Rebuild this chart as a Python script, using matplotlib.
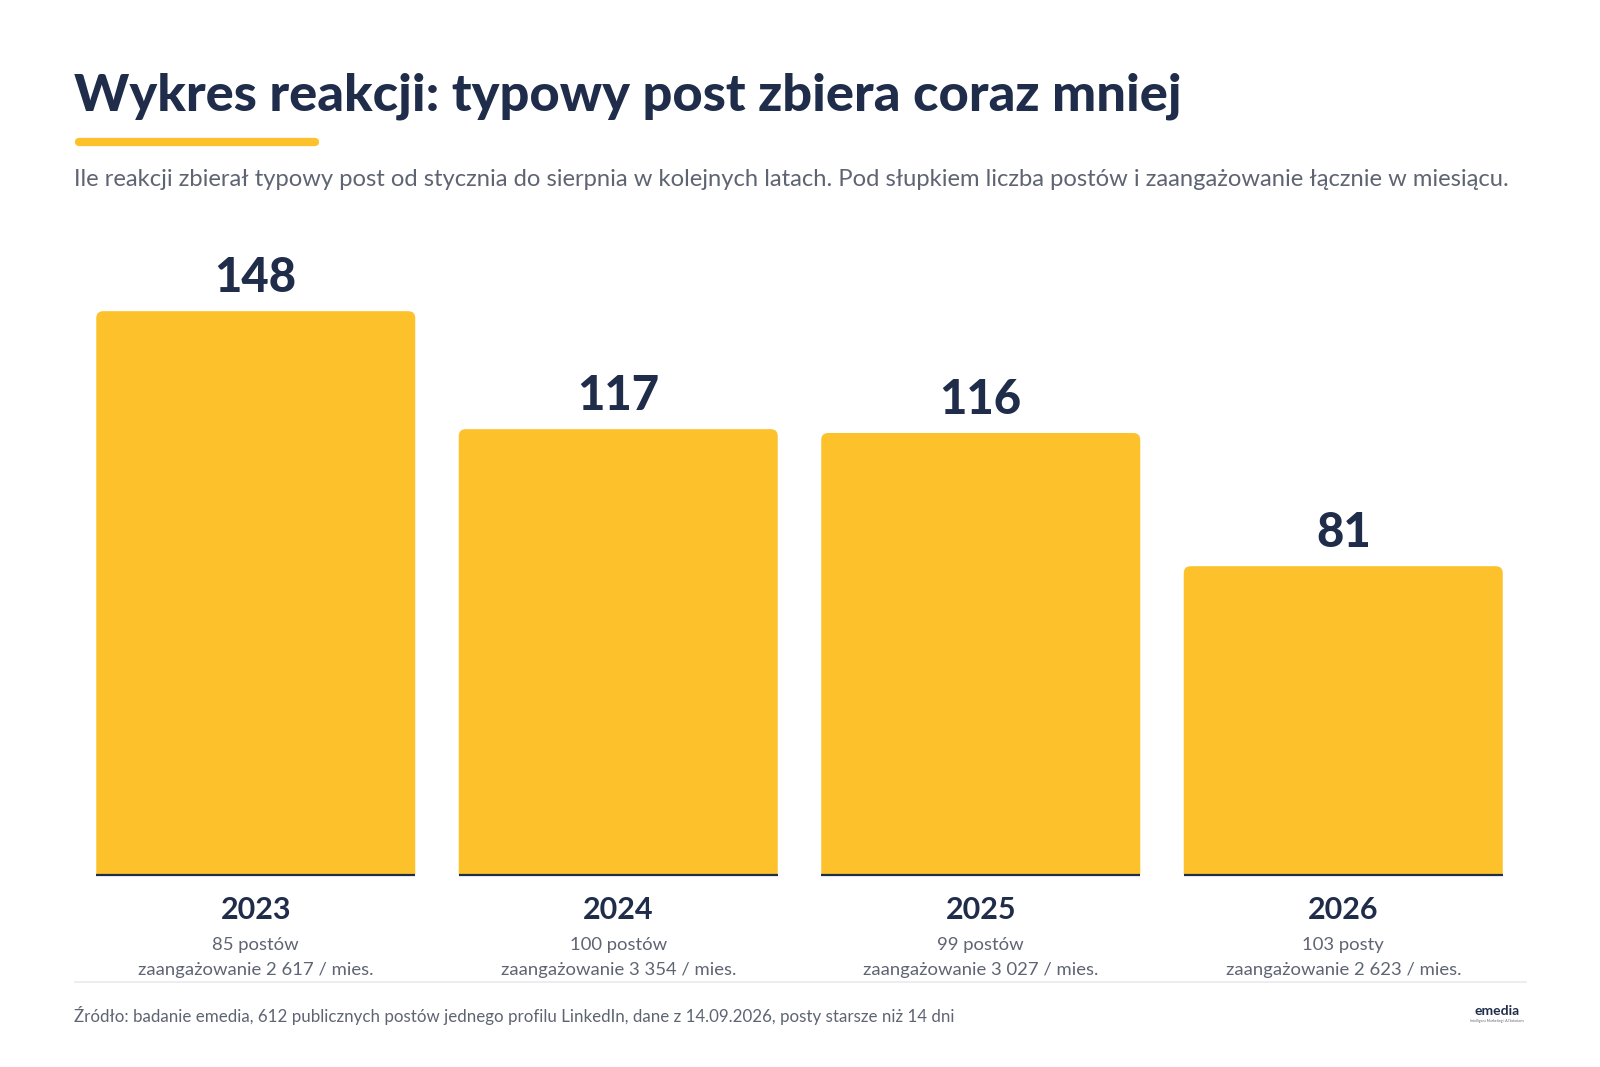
import matplotlib
matplotlib.use("Agg")
from matplotlib import pyplot as plt
from matplotlib.patches import FancyBboxPatch
from matplotlib.lines import Line2D

years = ["2023", "2024", "2025", "2026"]
reactions = [148, 117, 116, 81]
posts = ["85 postów", "100 postów", "99 postów", "103 posty"]
engagement = ["zaangażowanie 2 617 / mies.", "zaangażowanie 3 354 / mies.",
              "zaangażowanie 3 027 / mies.", "zaangażowanie 2 623 / mies."]

title = "Wykres reakcji: typowy post zbiera coraz mniej"
subtitle = ("Ile reakcji zbierał typowy post od stycznia do sierpnia w kolejnych latach. "
            "Pod słupkiem liczba postów i zaangażowanie łącznie w miesiącu.")
source = ("Źródło: badanie emedia, 612 publicznych postów jednego profilu LinkedIn, "
          "dane z 14.09.2026, posty starsze niż 14 dni")

NAVY = "#1f2d4a"
YELLOW = "#fdc22b"
GREY = "#5f6473"

plt.rcParams["font.family"] = ["Lato", "DejaVu Sans"]

W, H = 1600, 1067
fig = plt.figure(figsize=(16, 10.67), dpi=100)
ax = fig.add_axes([74.5 / W, 1 - 874.5 / H, 1450 / W, 609 / H])
ax.set_xlim(-0.5, 3.5)
ax.set_ylim(0, 160)
ax.axis("off")

xs = list(range(len(years)))
bw = 0.88
bars = ax.bar(xs, reactions, width=bw, color="none")
# rounded tops: same geometry as the bars, aspect corrected
ypp = 160 / 609
xpp = 4 / 1450
for b in bars:
    p = FancyBboxPatch((b.get_x(), -5), b.get_width(), b.get_height() + 5,
                       boxstyle="round,pad=0,rounding_size=%f" % (7 * xpp),
                       mutation_aspect=ypp / xpp, fc=YELLOW, ec="none")
    p.set_clip_path(ax.patch)
    ax.add_patch(p)
    b.set_visible(False)

ax.hlines([0] * len(xs), [x - bw / 2 for x in xs], [x + bw / 2 for x in xs],
          color=NAVY, lw=1.6, clip_on=False, zorder=5)

for x, v, yr, p, e in zip(xs, reactions, years, posts, engagement):
    ax.annotate(str(v), (x, v), xytext=(0, 14), textcoords="offset points",
                ha="center", va="baseline", fontsize=34, fontweight="black", color=NAVY)
    ax.annotate(yr, (x, 0), xytext=(0, -32), textcoords="offset points",
                ha="center", va="baseline", fontsize=22, fontweight="bold", color=NAVY,
                annotation_clip=False)
    ax.annotate(p, (x, 0), xytext=(0, -54.4), textcoords="offset points",
                ha="center", va="baseline", fontsize=13.3, color=GREY, annotation_clip=False)
    ax.annotate(e, (x, 0), xytext=(0, -72.4), textcoords="offset points",
                ha="center", va="baseline", fontsize=13.3, color=GREY, annotation_clip=False)

fig.text(74.5 / W, 1 - 110 / H, title, fontsize=37.7, fontweight="black", color=NAVY,
         va="baseline", ha="left")
fig.add_artist(Line2D([78.5 / W, 315 / W], [1 - 142 / H] * 2, transform=fig.transFigure,
                      color=YELLOW, lw=6, solid_capstyle="round"))
fig.text(74.5 / W, 1 - 186 / H, subtitle, fontsize=17.1, color=GREY, va="baseline", ha="left")

fig.add_artist(Line2D([74.5 / W, 1525.5 / W], [1 - 981.5 / H] * 2, transform=fig.transFigure,
                      color="#e8eaee", lw=1.2))
fig.text(74.5 / W, 1 - 1021.7 / H, source, fontsize=12.2, color=GREY, va="baseline", ha="left")

fig.text(1497 / W, 1 - 1015 / H, "emedia", fontsize=10, color=NAVY, ha="center",
         va="baseline", fontweight="bold")
fig.text(1497 / W, 1 - 1022 / H, "Intelligent Marketing i AI Solutions", fontsize=2.5,
         color=GREY, ha="center", va="baseline")

fig.savefig("out.png", dpi=100, facecolor="white")
